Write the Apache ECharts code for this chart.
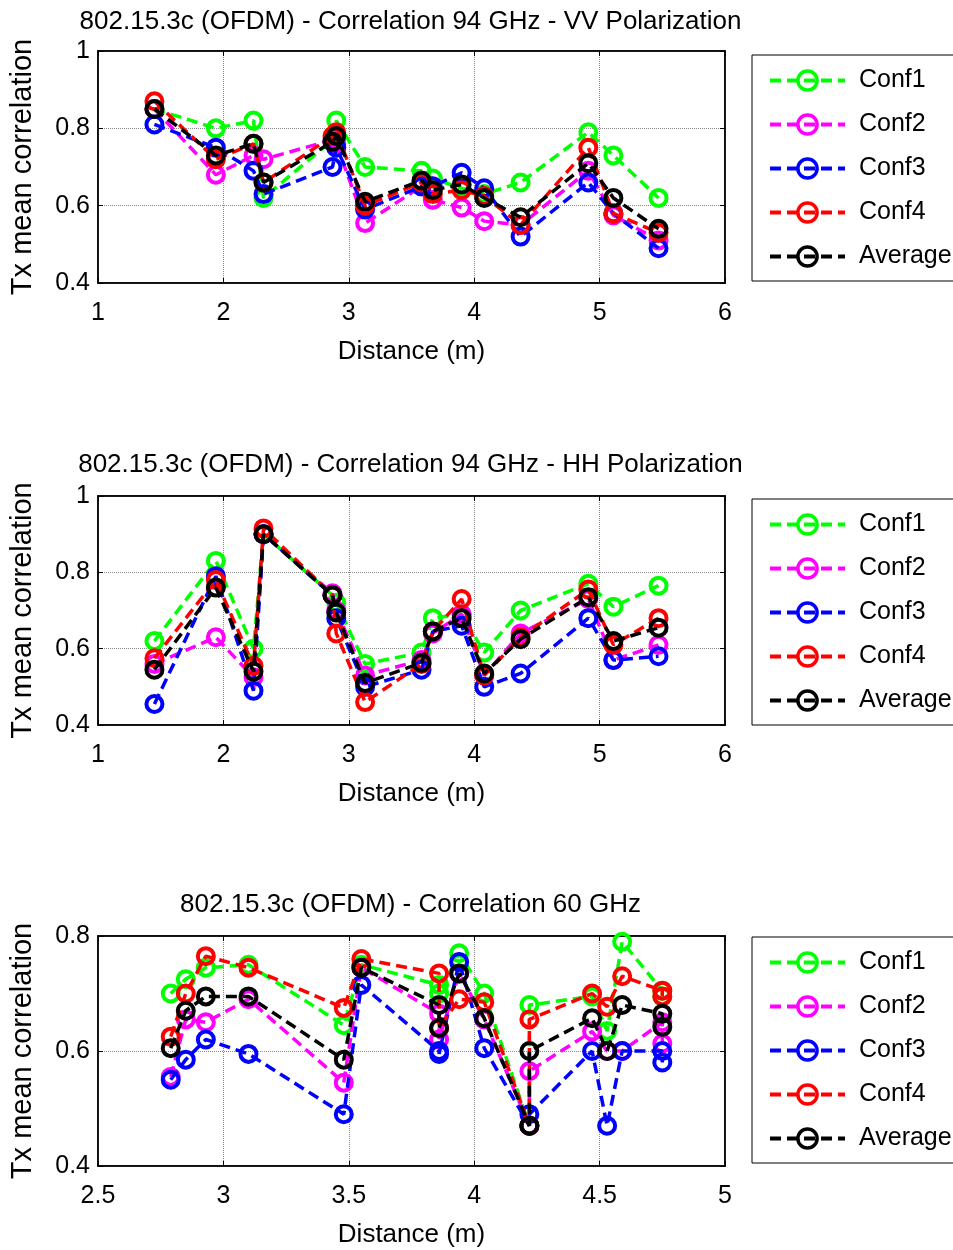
<!DOCTYPE html>
<html><head><meta charset="utf-8">
<script src="https://cdn.jsdelivr.net/npm/echarts@6/dist/echarts.min.js"></script>
<style>html,body{margin:0;padding:0;background:#fff}#c{width:953px;height:1250px}</style>
</head><body><div id="c"></div>
<script>
const FONT = "'Liberation Sans', Arial, sans-serif";
const SERIES_NAMES = ['Conf1', 'Conf2', 'Conf3', 'Conf4', 'Average'];
const COLORS = ['#00ff00', '#ff00ff', '#0000ff', '#ff0000', '#000000'];
const TITLES = [
  '802.15.3c (OFDM) - Correlation 94 GHz - VV Polarization',
  '802.15.3c (OFDM) - Correlation 94 GHz - HH Polarization',
  '802.15.3c (OFDM) - Correlation 60 GHz'
];
const X_NAME = 'Distance (m)';
const Y_NAME = 'Tx mean correlation';

// distances (m)
const DIST_94 = [1.45, 1.94, 2.24, 2.32, 2.87, 2.90, 3.13, 3.58, 3.67, 3.90, 4.08, 4.37, 4.91, 5.11, 5.47];
const DIST_60 = [2.79, 2.85, 2.93, 3.10, 3.48, 3.55, 3.86, 3.86, 3.94, 4.04, 4.22, 4.22, 4.47, 4.53, 4.59, 4.75, 4.75];

// 94 GHz VV
const VV_CONF1 = [0.85, 0.80, 0.82, 0.62, 0.77, 0.82, 0.70, 0.69, 0.67, 0.645, 0.63, 0.66, 0.79, 0.73, 0.62];
const VV_CONF2 = [0.85, 0.68, 0.73, 0.72, 0.77, 0.76, 0.555, 0.65, 0.615, 0.595, 0.56, 0.55, 0.69, 0.575, 0.51];
const VV_CONF3 = [0.81, 0.75, 0.69, 0.63, 0.70, 0.75, 0.59, 0.65, 0.65, 0.685, 0.645, 0.52, 0.66, 0.58, 0.49];
const VV_CONF4 = [0.87, 0.72, 0.76, 0.66, 0.78, 0.79, 0.60, 0.66, 0.63, 0.64, 0.625, 0.55, 0.75, 0.58, 0.53];
const VV_AVG   = [0.85, 0.73, 0.76, 0.66, 0.765, 0.78, 0.61, 0.665, 0.64, 0.655, 0.62, 0.57, 0.71, 0.62, 0.54];

// 94 GHz HH
const HH_CONF1 = [0.62, 0.83, 0.60, 0.90, 0.74, 0.72, 0.56, 0.59, 0.68, 0.69, 0.59, 0.70, 0.77, 0.71, 0.765];
const HH_CONF2 = [0.56, 0.63, 0.525, 0.90, 0.745, 0.70, 0.53, 0.57, 0.64, 0.69, 0.53, 0.64, 0.73, 0.57, 0.61];
const HH_CONF3 = [0.455, 0.79, 0.49, 0.90, 0.74, 0.68, 0.50, 0.545, 0.645, 0.66, 0.50, 0.535, 0.68, 0.57, 0.58];
const HH_CONF4 = [0.575, 0.78, 0.555, 0.915, 0.74, 0.64, 0.46, 0.56, 0.645, 0.73, 0.53, 0.63, 0.755, 0.61, 0.68];
const HH_AVG   = [0.545, 0.76, 0.54, 0.90, 0.74, 0.695, 0.51, 0.563, 0.645, 0.68, 0.535, 0.625, 0.735, 0.62, 0.655];

// 60 GHz
const G60_CONF1 = [0.70, 0.725, 0.745, 0.75, 0.645, 0.75, 0.715, 0.70, 0.77, 0.70, 0.47, 0.68, 0.695, 0.635, 0.79, 0.705, 0.695];
const G60_CONF2 = [0.555, 0.655, 0.65, 0.69, 0.545, 0.745, 0.665, 0.62, 0.735, 0.655, 0.47, 0.565, 0.634, 0.60, 0.60, 0.65, 0.613];
const G60_CONF3 = [0.55, 0.585, 0.62, 0.595, 0.49, 0.715, 0.60, 0.595, 0.755, 0.605, 0.47, 0.49, 0.60, 0.47, 0.60, 0.60, 0.58];
const G60_CONF4 = [0.625, 0.70, 0.765, 0.745, 0.675, 0.76, 0.735, 0.64, 0.69, 0.685, 0.47, 0.655, 0.70, 0.677, 0.73, 0.705, 0.695];
const G60_AVG   = [0.605, 0.67, 0.695, 0.695, 0.585, 0.745, 0.68, 0.64, 0.735, 0.657, 0.47, 0.60, 0.657, 0.60, 0.68, 0.665, 0.642];

const PANELS = [
  { dist: DIST_94, vals: [VV_CONF1, VV_CONF2, VV_CONF3, VV_CONF4, VV_AVG], x: [1, 6, 1], y: [0.4, 1, 0.2] },
  { dist: DIST_94, vals: [HH_CONF1, HH_CONF2, HH_CONF3, HH_CONF4, HH_AVG], x: [1, 6, 1], y: [0.4, 1, 0.2] },
  { dist: DIST_60, vals: [G60_CONF1, G60_CONF2, G60_CONF3, G60_CONF4, G60_AVG], x: [2.5, 5, 0.5], y: [0.4, 0.8, 0.2] }
];

// layout
const GRID_TOPS = [51, 496, 936];
const GRID_H = [232, 229, 230];
const GRID_LEFT = 96, GRID_W = 629;
const TITLE_TOPS = [9, 452, 892];
const LEGEND_TOPS = [55, 499, 937];

const chart = echarts.init(document.getElementById('c'), null, { renderer: 'canvas' });

const grids = [], xAxes = [], yAxes = [], series = [], titles = [], legends = [];
PANELS.forEach((p, g) => {
  grids.push({ left: GRID_LEFT, top: GRID_TOPS[g], width: GRID_W, height: GRID_H[g],
    show: true, borderColor: '#000', borderWidth: 1.5, backgroundColor: '#fff' });
  titles.push({ text: TITLES[g], left: GRID_LEFT + GRID_W / 2, top: TITLE_TOPS[g], textAlign: 'center', padding: 0,
    textStyle: { fontFamily: FONT, fontSize: 26, fontWeight: 'normal', color: '#000' } });
  const axLine = { show: true, lineStyle: { color: '#000', width: 1.5 } };
  const tick = { show: true, inside: true, length: 5, lineStyle: { color: '#000', width: 1 } };
  xAxes.push({ gridIndex: g, type: 'value', position: 'bottom', min: p.x[0], max: p.x[1], interval: p.x[2],
    axisLine: axLine, axisTick: tick,
    axisLabel: { color: '#000', fontSize: 25, fontFamily: FONT, margin: 18 },
    splitLine: { show: true, lineStyle: { color: '#8a8a8a', type: 'dotted', width: 1 } },
    name: X_NAME, nameLocation: 'middle', nameGap: 56,
    nameTextStyle: { color: '#000', fontSize: 26, fontFamily: FONT } });
  xAxes.push({ gridIndex: g, type: 'value', position: 'top', min: p.x[0], max: p.x[1], interval: p.x[2],
    axisLine: axLine, axisTick: tick, axisLabel: { show: false }, splitLine: { show: false } });
  yAxes.push({ gridIndex: g, type: 'value', position: 'left', min: p.y[0], max: p.y[1], interval: p.y[2],
    axisLine: axLine, axisTick: tick,
    axisLabel: { color: '#000', fontSize: 25, fontFamily: FONT, margin: 8 },
    splitLine: { show: true, lineStyle: { color: '#8a8a8a', type: 'dotted', width: 1 } },
    name: Y_NAME, nameLocation: 'middle', nameGap: 61, nameRotate: 90,
    nameTextStyle: { color: '#000', fontSize: 29, fontFamily: FONT } });
  yAxes.push({ gridIndex: g, type: 'value', position: 'right', min: p.y[0], max: p.y[1], interval: p.y[2],
    axisLine: axLine, axisTick: tick, axisLabel: { show: false }, splitLine: { show: false } });
  legends.push({ orient: 'vertical', left: 752, top: LEGEND_TOPS[g], data: SERIES_NAMES,
    itemWidth: 75, itemHeight: 24, itemGap: 19, padding: [13, 60, 12, 16],
    borderColor: '#000', borderWidth: 1, backgroundColor: '#fff', selectedMode: false,
    itemStyle: { borderWidth: 3.5 },
    lineStyle: { width: 4, type: [11, 6] },
    textStyle: { fontSize: 25, color: '#000', fontFamily: FONT, padding: [10, 0, 0, 9] } });
  p.vals.forEach((vals, s) => {
    series.push({ type: 'line', name: SERIES_NAMES[s], xAxisIndex: g * 2, yAxisIndex: g * 2,
      data: p.dist.map((d, i) => [d, vals[i]]),
      color: COLORS[s], symbol: 'circle', symbolSize: 16, z: 2 + s,
      lineStyle: { color: COLORS[s], width: 3.5, type: [11, 6] },
      itemStyle: { color: 'rgba(255,255,255,0)', borderColor: COLORS[s], borderWidth: 4 },
      emphasis: { disabled: true }, animation: false });
  });
});

chart.setOption({
  animation: false,
  backgroundColor: '#fff',
  title: titles, grid: grids, xAxis: xAxes, yAxis: yAxes, legend: legends, series: series
});
</script></body></html>
